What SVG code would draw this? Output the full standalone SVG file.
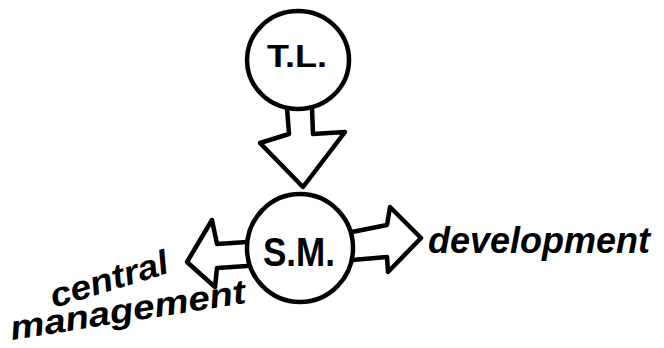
<svg xmlns="http://www.w3.org/2000/svg" width="664" height="348" viewBox="0 0 664 348">
<style>
.shape{fill:#fff;stroke:#000;stroke-width:4.5;stroke-linejoin:round;stroke-linecap:round}
.lbl{font-family:"Liberation Sans",Arial,sans-serif;font-weight:bold;fill:#000}
.hand{font-family:"Liberation Sans",Arial,sans-serif;font-style:italic;font-weight:bold;fill:#000}
</style>
<rect width="664" height="348" fill="#fff"/>
<g id="connectors">
<path class="shape" d="M287,108 L289,134 L260,143 L303,187 L345,132 L313,134 L312,108"/>
<path class="shape" d="M352,232 L387,225 L390,207 L421,238 L388,272 L387,257 L352,260"/>
<path class="shape" d="M247,242 L217,244 L212,220 L187,262 L215,287 L217,268 L247,266"/>
</g>
<g id="node-tl">
<ellipse class="shape" cx="298" cy="60" rx="51" ry="49"/>
<text class="lbl" x="267" y="67" font-size="32" textLength="60" lengthAdjust="spacingAndGlyphs">T.L.</text>
</g>
<g id="node-sm">
<ellipse class="shape" cx="300" cy="248" rx="53" ry="54"/>
<text class="lbl" x="263" y="266" font-size="40" textLength="72" lengthAdjust="spacingAndGlyphs">S.M.</text>
</g>
<g id="label-development">
<text class="hand" x="428" y="253" font-size="36" textLength="222" lengthAdjust="spacingAndGlyphs">development</text>
</g>
<g id="label-central-management">
<text class="hand" font-size="34" transform="translate(54,308) rotate(-17)" textLength="122" lengthAdjust="spacingAndGlyphs">central</text>
<text class="hand" font-size="34" transform="translate(12,340) rotate(-9)" textLength="238" lengthAdjust="spacingAndGlyphs">management</text>
</g>
</svg>
